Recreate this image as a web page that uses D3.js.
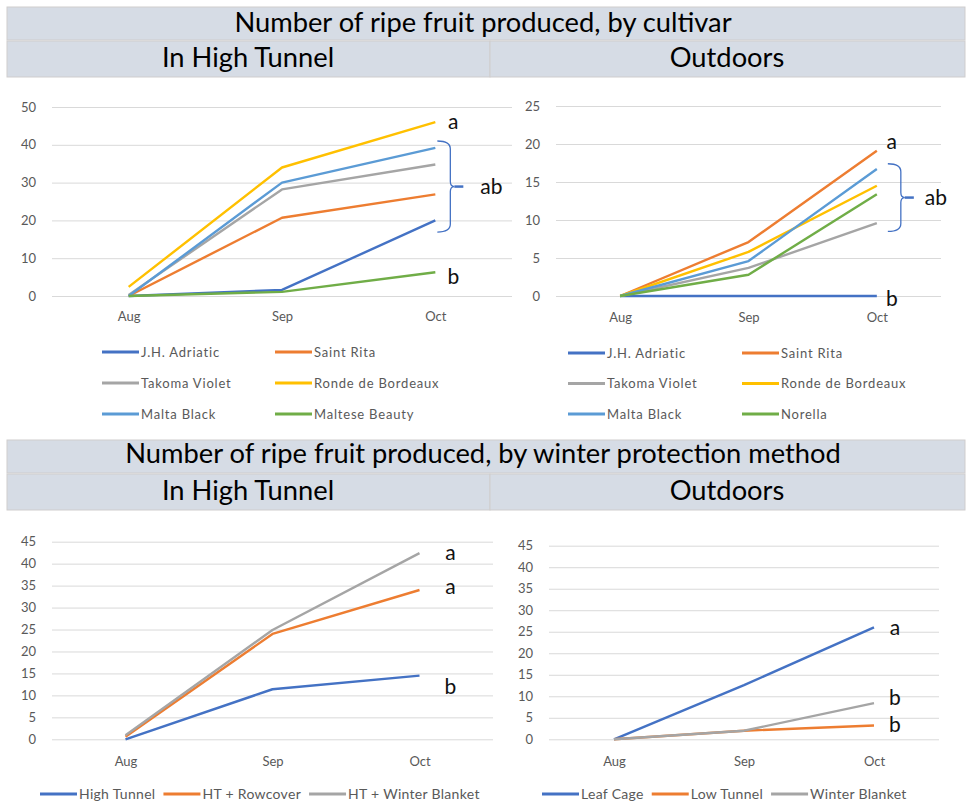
<!DOCTYPE html>
<html>
<head>
<meta charset="utf-8">
<script src="https://cdn.jsdelivr.net/npm/d3@7"></script>
<style>
  body { margin: 0; background: #fff; }
  svg { display: block; font-family: Lato, sans-serif; }
</style>
</head>
<body>
<svg id="fig" width="969" height="806"></svg>
<script>
// ---- data ----
const months = ['Aug', 'Sep', 'Oct']

const cultivarsHT = ['J.H. Adriatic', 'Saint Rita', 'Takoma Violet', 'Ronde de Bordeaux', 'Malta Black', 'Maltese Beauty']
const cultivarsHTValues = [
  [0, 1.6, 20],
  [0, 20.7, 26.9],
  [0.3, 28.2, 34.8],
  [2.4, 34, 46],
  [0, 30, 39.2],
  [0, 1.1, 6.3]
]

const cultivarsOut = ['J.H. Adriatic', 'Saint Rita', 'Takoma Violet', 'Ronde de Bordeaux', 'Malta Black', 'Norella']
const cultivarsOutValues = [
  [0, 0, 0],
  [0, 7.1, 19.1],
  [0, 3.7, 9.6],
  [0, 5.8, 14.5],
  [0, 4.6, 16.7],
  [0, 2.8, 13.4]
]

const methodsHT = ['High Tunnel', 'HT + Rowcover', 'HT + Winter Blanket']
const methodsHTValues = [
  [0, 11.4, 14.5],
  [0.6, 24, 34],
  [0.9, 24.9, 42.4]
]

const methodsOut = ['Leaf Cage', 'Low Tunnel', 'Winter Blanket']
const methodsOutValues = [
  [0, 12.6, 26],
  [0, 2, 3.2],
  [0, 2, 8.4]
]

const ticksCultivarHT = [0, 10, 20, 30, 40, 50]
const ticksCultivarOut = [0, 5, 10, 15, 20, 25]
const ticksMethod = [0, 5, 10, 15, 20, 25, 30, 35, 40, 45]

// significance letters: text + value they sit at (at Oct)
const lettersCultivarHT = [{ t: 'a', v: 46 }, { t: 'b', v: 5 }]
const lettersCultivarOut = [{ t: 'a', v: 20.3 }, { t: 'b', v: -0.3 }]
const lettersMethodHT = [{ t: 'a', v: 42.4 }, { t: 'a', v: 34.8 }, { t: 'b', v: 12 }]
const lettersMethodOut = [{ t: 'a', v: 25.9 }, { t: 'b', v: 9.6 }, { t: 'b', v: 3.3 }]

// bracketed groups: [low, high] value span and letter
const bracketCultivarHT = { lo: 16.9, hi: 41, t: 'ab' }
const bracketCultivarOut = { lo: 8.5, hi: 17.4, t: 'ab' }

const colors6 = ['#4472C4', '#ED7D31', '#A5A5A5', '#FFC000', '#5B9BD5', '#70AD47']
const colors3 = ['#4472C4', '#ED7D31', '#A5A5A5']

const svg = d3.select('#fig')

// ---- header bands ----
function drawHeader(top, title, titleDy) {
  const g = svg.append('g')
  g.append('rect').attr('x', 7).attr('y', top).attr('width', 958).attr('height', 33)
    .attr('fill', '#d6dce5').attr('stroke', '#cfcdcd')
  g.append('rect').attr('x', 7).attr('y', top + 34).attr('width', 483).attr('height', 36)
    .attr('fill', '#d6dce5').attr('stroke', '#cfcdcd')
  g.append('rect').attr('x', 490).attr('y', top + 34).attr('width', 475).attr('height', 36)
    .attr('fill', '#d6dce5').attr('stroke', '#cfcdcd')
  g.append('text').attr('x', 483).attr('y', top + titleDy).attr('text-anchor', 'middle')
    .attr('font-size', 27.3).attr('fill', '#000').text(title)
  g.append('text').attr('x', 248).attr('y', top + 60).attr('text-anchor', 'middle')
    .attr('font-size', 27.3).attr('fill', '#000').text('In High Tunnel')
  g.append('text').attr('x', 727).attr('y', top + 60).attr('text-anchor', 'middle')
    .attr('font-size', 27.3).attr('fill', '#000').text('Outdoors')
}

drawHeader(7, 'Number of ripe fruit produced, by cultivar', 25)
drawHeader(440, 'Number of ripe fruit produced, by winter protection method', 23)

// ---- one line chart ----
function drawPanel(p) {
  const x = d3.scalePoint().domain(months).range(p.xRange).padding(0.5)
  const y = d3.scaleLinear().domain([0, p.yMax]).range(p.yRange)
  const g = svg.append('g')
  const w = p.xRange[1] - p.xRange[0]

  g.append('g')
    .attr('transform', `translate(${p.xRange[0]},0)`)
    .call(d3.axisLeft(y).tickValues(p.ticks).tickSize(-w).tickPadding(16))
    .attr('font-family', null).attr('font-size', 13)
    .call(a => a.select('.domain').remove())
    .call(a => a.selectAll('line').attr('stroke', '#d9d9d9').attr('stroke-width', 1))
    .call(a => a.selectAll('text').attr('fill', '#595959'))

  g.append('g')
    .attr('transform', `translate(0,${p.yRange[0]})`)
    .call(d3.axisBottom(x).tickSize(0).tickPadding(p.xPad))
    .attr('font-family', null).attr('font-size', 13)
    .call(a => a.select('.domain').remove())
    .call(a => a.selectAll('text').attr('fill', '#595959'))

  const line = d3.line().x((d, i) => x(months[i])).y(d => y(d))
  g.selectAll('path.series')
    .data(p.values)
    .join('path')
    .attr('class', 'series')
    .attr('d', line)
    .attr('fill', 'none')
    .attr('stroke', (d, i) => p.colors[i])
    .attr('stroke-width', 2.4)
    .attr('stroke-linejoin', 'round')

  const xEnd = x('Oct')
  g.selectAll('text.letter')
    .data(p.letters)
    .join('text')
    .attr('class', 'letter')
    .attr('x', xEnd + p.letterDx)
    .attr('y', d => y(d.v))
    .attr('dy', '0.35em')
    .attr('text-anchor', 'middle')
    .attr('font-size', 21)
    .attr('fill', '#111')
    .text(d => d.t)

  if (p.bracket) {
    const b = p.bracket
    const yT = y(b.hi), yB = y(b.lo), yM = (yT + yB) / 2
    const x0 = xEnd + p.bracketDx, x1 = x0 + 13
    g.append('path')
      .attr('d', `M${x0},${yT} Q${x1},${yT} ${x1},${yT + 8} L${x1},${yM - 5} Q${x1},${yM} ${x1 + 4},${yM} Q${x1},${yM} ${x1},${yM + 5} L${x1},${yB - 8} Q${x1},${yB} ${x0},${yB}`)
      .attr('fill', 'none').attr('stroke', '#4472C4').attr('stroke-width', 1.3)
    g.append('line')
      .attr('x1', x1 + 4).attr('x2', x1 + 13).attr('y1', yM).attr('y2', yM)
      .attr('stroke', '#4472C4').attr('stroke-width', 2.5)
    g.append('text')
      .attr('x', x1 + p.bracketTextDx).attr('y', yM).attr('dy', '0.35em')
      .attr('font-size', 21).attr('fill', '#111').text(b.t)
  }

  // legend
  const lg = g.append('g').attr('fill', '#595959')
  if (p.legend.cols) {
    p.names.forEach((n, i) => {
      const lx = p.legend.cols[i % 2]
      const ly = p.legend.y + Math.floor(i / 2) * p.legend.step
      lg.append('line').attr('x1', lx).attr('x2', lx + 37).attr('y1', ly).attr('y2', ly)
        .attr('stroke', p.colors[i]).attr('stroke-width', 3)
      lg.append('text').attr('x', lx + 39).attr('y', ly).attr('dy', '0.35em')
        .attr('font-size', 13).attr('letter-spacing', 0.8).text(n)
    })
  } else {
    let lx = p.legend.x
    const ly = p.legend.y
    p.names.forEach((n, i) => {
      lg.append('line').attr('x1', lx).attr('x2', lx + 37).attr('y1', ly).attr('y2', ly)
        .attr('stroke', p.colors[i]).attr('stroke-width', 3)
      const t = lg.append('text').attr('x', lx + 39).attr('y', ly).attr('dy', '0.35em')
        .attr('font-size', 14).attr('letter-spacing', 0.3).text(n)
      lx += 39 + t.node().getComputedTextLength() + 8
    })
  }
}

drawPanel({
  names: cultivarsHT, values: cultivarsHTValues, colors: colors6, ticks: ticksCultivarHT, yMax: 50,
  xRange: [52, 512], yRange: [296, 107], xPad: 16,
  letters: lettersCultivarHT, letterDx: 18, bracket: bracketCultivarHT, bracketDx: 2, bracketTextDx: 30,
  legend: { cols: [102, 275], y: 352, step: 31 }
})

drawPanel({
  names: cultivarsOut, values: cultivarsOutValues, colors: colors6, ticks: ticksCultivarOut, yMax: 25,
  xRange: [556, 941], yRange: [296, 106], xPad: 17,
  letters: lettersCultivarOut, letterDx: 15, bracket: bracketCultivarOut, bracketDx: 11, bracketTextDx: 24,
  legend: { cols: [568, 742], y: 353, step: 30.5 }
})

drawPanel({
  names: methodsHT, values: methodsHTValues, colors: colors3, ticks: ticksMethod, yMax: 45,
  xRange: [52, 493], yRange: [739.3, 541.7], xPad: 17,
  letters: lettersMethodHT, letterDx: 31,
  legend: { x: 40, y: 794 }
})

drawPanel({
  names: methodsOut, values: methodsOutValues, colors: colors3, ticks: ticksMethod, yMax: 45,
  xRange: [549, 939], yRange: [739.3, 545.7], xPad: 17,
  letters: lettersMethodOut, letterDx: 21,
  legend: { x: 542, y: 794 }
})
</script>
</body>
</html>
